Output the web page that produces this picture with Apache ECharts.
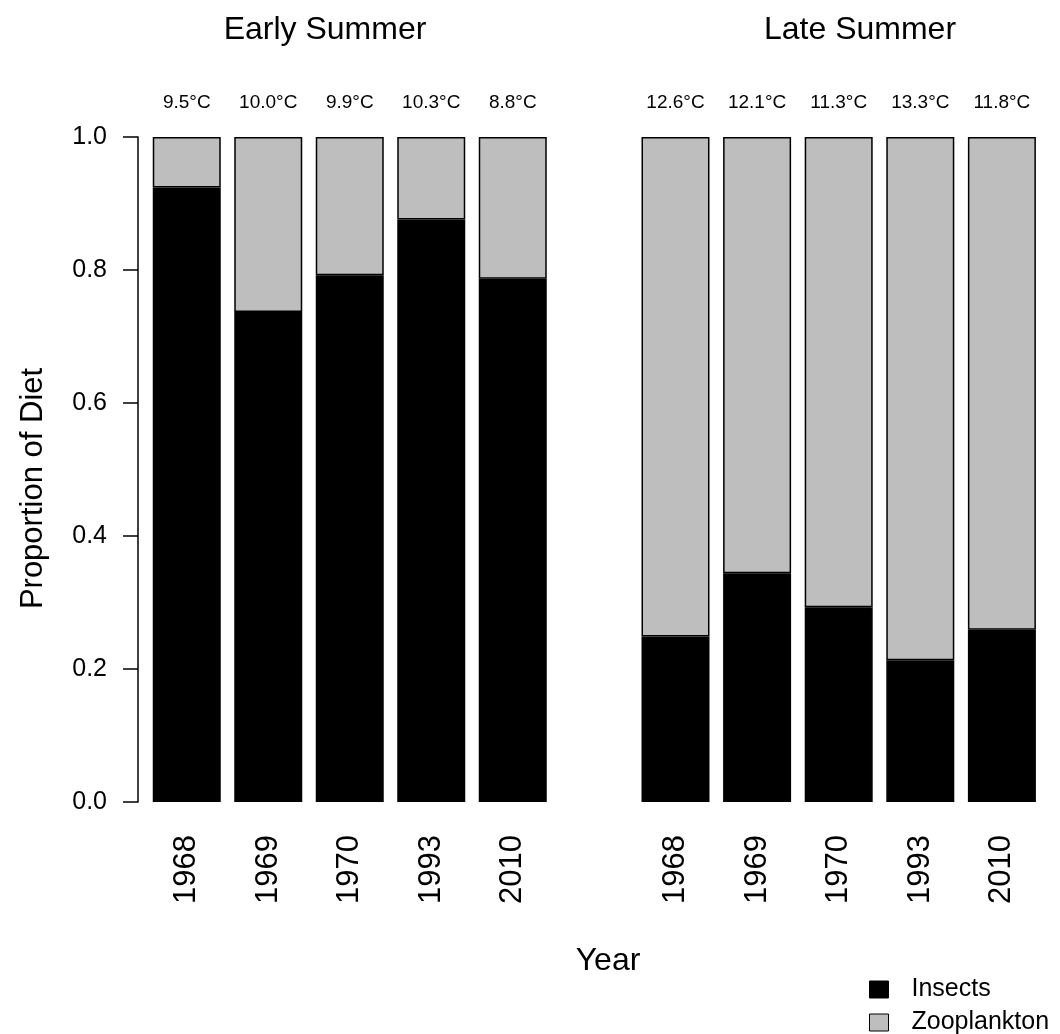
<!DOCTYPE html>
<html>
<head>
<meta charset="utf-8">
<script src="https://cdn.jsdelivr.net/npm/echarts@6/dist/echarts.min.js"></script>
<style>
html,body{margin:0;padding:0;background:#fff;}
#chart{width:1060px;height:1034px;}
</style>
</head>
<body>
<div id="chart"></div>
<script>
const years = ['1968', '1969', '1970', '1993', '2010'];
const earlyInsects = [0.924, 0.737, 0.792, 0.876, 0.787];
const earlyZooplankton = [0.076, 0.263, 0.208, 0.124, 0.213];
const lateInsects = [0.249, 0.344, 0.293, 0.213, 0.259];
const lateZooplankton = [0.751, 0.656, 0.707, 0.787, 0.741];
const earlyTemps = ['9.5°C', '10.0°C', '9.9°C', '10.3°C', '8.8°C'];
const lateTemps = ['12.6°C', '12.1°C', '11.3°C', '13.3°C', '11.8°C'];
const yTicks = [0, 0.2, 0.4, 0.6, 0.8, 1.0];

const FONT = 'Liberation Sans, Arial, Helvetica, sans-serif';
const chart = echarts.init(document.getElementById('chart'), null, {renderer: 'canvas'});

function xAxisCfg(gi) {
  return {
    type: 'category', gridIndex: gi, data: years,
    axisLine: {show: false}, axisTick: {show: false},
    axisLabel: {rotate: 90, margin: 33, fontSize: 31, color: '#000', fontFamily: FONT}
  };
}
function barSeries(name, gi, data, color, temps) {
  const s = {
    name: name, type: 'bar', stack: 'g' + gi, xAxisIndex: gi, yAxisIndex: gi,
    data: data, barWidth: 68,
    itemStyle: {color: color, borderColor: '#000', borderWidth: 1.5},
    emphasis: {disabled: true}
  };
  if (temps) {
    s.label = {
      show: true, position: 'top', distance: 25, fontSize: 19, color: '#000', fontFamily: FONT,
      formatter: p => temps[p.dataIndex]
    };
  }
  return s;
}

chart.setOption({
  animation: false,
  textStyle: {fontFamily: FONT},
  title: [
    {text: 'Early Summer', left: 320, top: 9},
    {text: 'Late Summer', left: 855, top: 9},
    {text: 'Year', left: 603, top: 940}
  ].map(t => Object.assign(t, {
    textAlign: 'center',
    textStyle: {fontSize: 32, fontWeight: 'normal', color: '#000', fontFamily: FONT}
  })),
  legend: {
    data: ['Insects', 'Zooplankton'],
    orient: 'vertical', left: 864, top: 972, height: 80,
    itemWidth: 19, itemHeight: 17, itemGap: 8,
    icon: 'rect',
    itemStyle: {borderColor: '#000', borderWidth: 1},
    textStyle: {fontSize: 25, color: '#000', fontFamily: FONT, padding: [0, 0, 0, 18]},
    selectedMode: false
  },
  grid: [
    {left: 146, top: 137, width: 407.5, height: 665},
    {left: 634.7, top: 137, width: 408, height: 665}
  ],
  xAxis: [xAxisCfg(0), xAxisCfg(1)],
  yAxis: [
    {
      type: 'value', gridIndex: 0, min: 0, max: 1, interval: 0.2, offset: 8,
      name: 'Proportion of Diet', nameLocation: 'middle', nameGap: 89, nameRotate: 90,
      nameTextStyle: {fontSize: 31, color: '#000', fontFamily: FONT, padding: [0, 38, 0, 0]},
      axisLine: {show: true, lineStyle: {color: '#000', width: 1.5}},
      axisTick: {show: true, length: 15, lineStyle: {color: '#000', width: 1.5}},
      splitLine: {show: false},
      axisLabel: {margin: 31, fontSize: 25, color: '#000', fontFamily: FONT,
                  formatter: v => yTicks.includes(Math.round(v * 10) / 10) ? v.toFixed(1) : ''}
    },
    {
      type: 'value', gridIndex: 1, min: 0, max: 1, interval: 0.2, show: false,
      splitLine: {show: false}
    }
  ],
  series: [
    barSeries('Insects', 0, earlyInsects, '#000'),
    barSeries('Zooplankton', 0, earlyZooplankton, '#BEBEBE', earlyTemps),
    barSeries('Insects', 1, lateInsects, '#000'),
    barSeries('Zooplankton', 1, lateZooplankton, '#BEBEBE', lateTemps)
  ]
});
</script>
</body>
</html>
